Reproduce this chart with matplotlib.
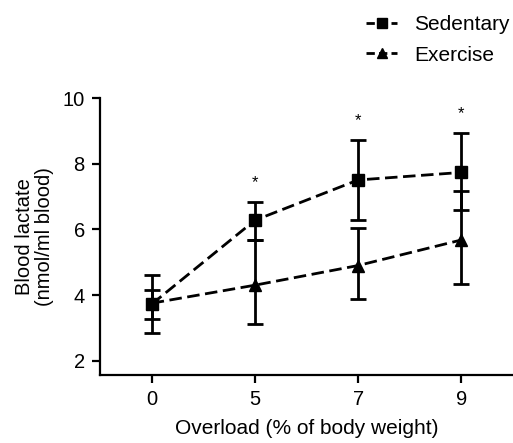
import numpy as np
from matplotlib import pyplot as plt
from matplotlib.lines import Line2D

plt.rcParams['font.family'] = ['Liberation Sans', 'DejaVu Sans']

overload = ["0", "5", "7", "9"]
sed_mean = [3.72, 6.28, 7.51, 7.74]
sed_lo = [2.85, 5.68, 6.29, 6.60]
sed_hi = [4.61, 6.85, 8.73, 8.95]
ex_mean = [3.75, 4.30, 4.90, 5.68]
ex_lo = [3.27, 3.11, 3.87, 4.35]
ex_hi = [4.15, 5.68, 6.04, 7.18]
star_y = [7.43, 9.32, 9.54]
star_idx = [1, 2, 3]

fig = plt.figure(figsize=(5.13, 4.43), dpi=100)
ax = fig.add_axes([0.195, 0.1535, 0.805, 0.6245])

x = np.arange(len(overload))
dash = (0, (4.5, 2))

def draw(mean, lo, hi, marker, ms):
    mean = np.array(mean)
    yerr = [mean - np.array(lo), np.array(hi) - mean]
    ax.errorbar(x, mean, yerr=yerr, fmt='none', ecolor='black',
                elinewidth=2, capsize=6, capthick=2, zorder=2)
    ax.plot(x, mean, color='black', lw=2, linestyle=dash,
            marker=marker, markersize=ms, markerfacecolor='black',
            markeredgecolor='black', zorder=3)

draw(ex_mean, ex_lo, ex_hi, '^', 8)
draw(sed_mean, sed_lo, sed_hi, 's', 8.5)

for i, yy in zip(star_idx, star_y):
    ax.text(x[i], yy, "*", ha='center', va='center', fontsize=12)

ax.set_xlim(-0.5, 3.5)
ax.set_ylim(1.56, 10)
ax.set_xticks(x)
ax.set_xticklabels(overload)
ax.set_yticks([2, 4, 6, 8, 10])
ax.spines['top'].set_visible(False)
ax.spines['right'].set_visible(False)
ax.spines['left'].set_linewidth(1.6)
ax.spines['bottom'].set_linewidth(1.6)
ax.spines['left'].set_bounds(1.56, 10)
ax.tick_params(axis='both', width=1.6, length=6, labelsize=14.5, pad=5)
ax.set_xlabel("Overload (% of body weight)", fontsize=15, labelpad=7)
ax.set_ylabel("Blood lactate\n(nmol/ml blood)", fontsize=14.5, labelpad=6,
              linespacing=1.1)

handles = [
    Line2D([], [], color='black', lw=2, linestyle=(0, (3, 1.5)), marker='s',
           markersize=7),
    Line2D([], [], color='black', lw=2, linestyle=(0, (3, 1.5)), marker='^',
           markersize=7),
]
fig.legend(handles, ["Sedentary", "Exercise"], loc='upper right',
           bbox_to_anchor=(1.03, 1.008), frameon=False, fontsize=15,
           handlelength=1.5, handletextpad=0.8, labelspacing=0.55)

plt.savefig("out.png", dpi=100)
